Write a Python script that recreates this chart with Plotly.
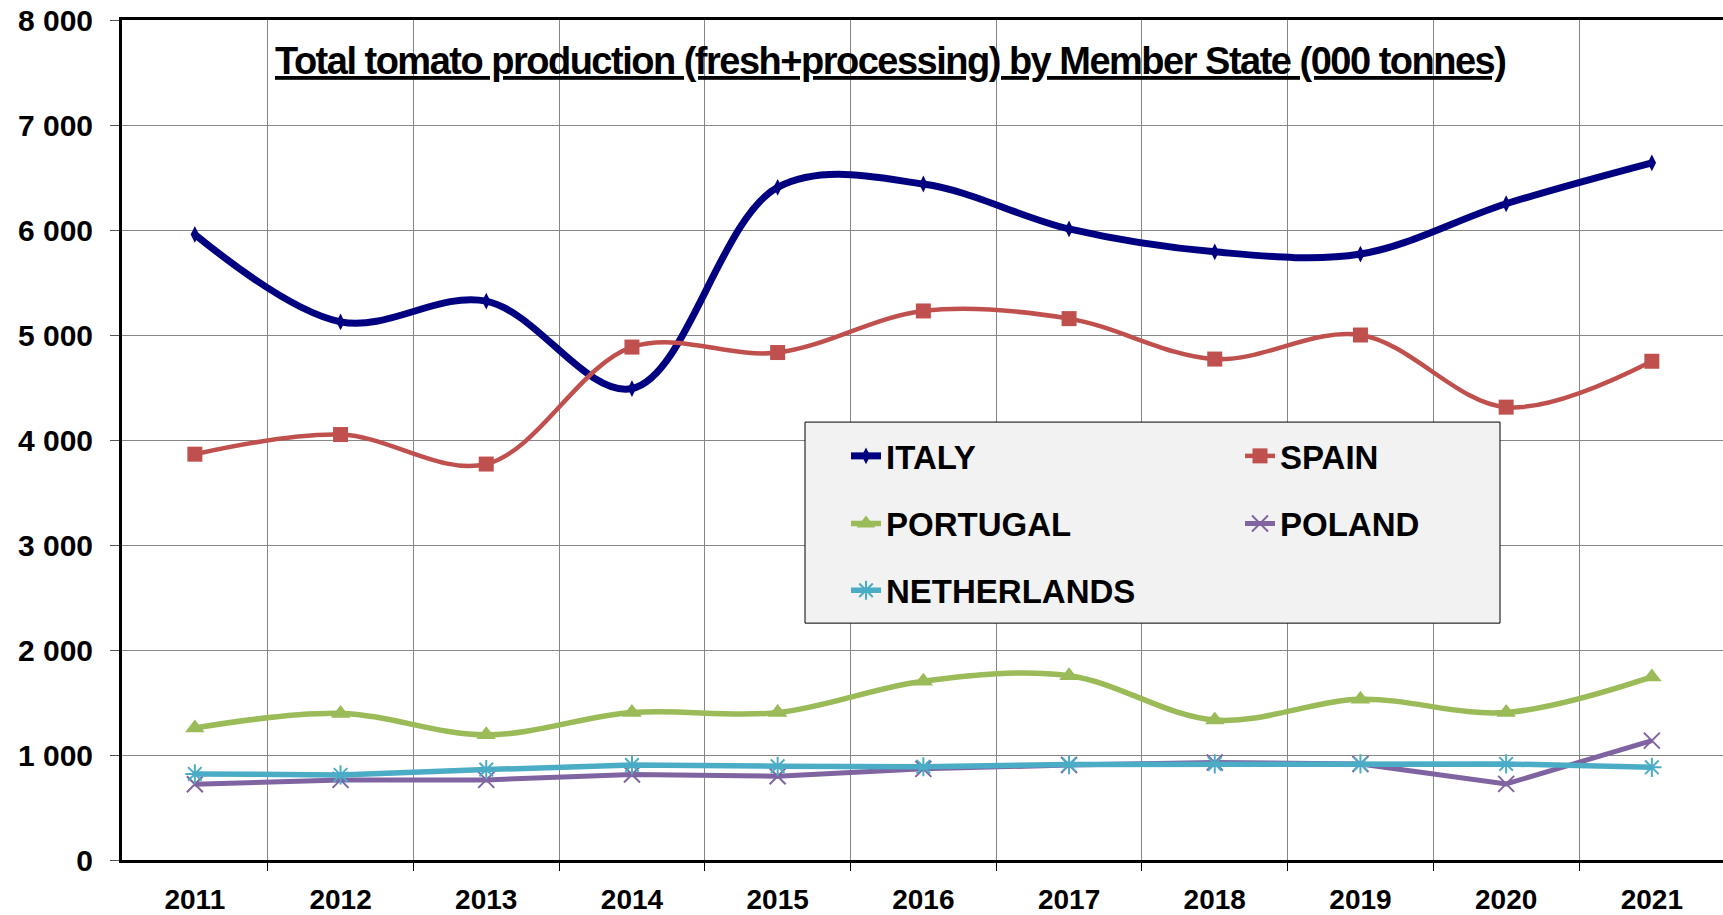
import plotly.graph_objects as go

years = ["2011", "2012", "2013", "2014", "2015", "2016", "2017", "2018", "2019", "2020", "2021"]
italy = [5958, 5125, 5323, 4490, 6406, 6438, 6010, 5792, 5771, 6250, 6640]
spain = [3865, 4052, 3771, 4885, 4833, 5229, 5156, 4771, 5000, 4313, 4750]
portugal = [1258, 1396, 1192, 1405, 1404, 1703, 1755, 1333, 1530, 1405, 1744]
poland = [722, 763, 763, 814, 798, 868, 905, 928, 915, 725, 1137]
netherlands = [820, 810, 861, 905, 893, 888, 909, 915, 915, 915, 883]
y_ticks = [0, 1000, 2000, 3000, 4000, 5000, 6000, 7000, 8000]
y_ticktext = [format(v, ",").replace(",", " ") for v in y_ticks]

title_text = "Total tomato production (fresh+processing) by Member State (000 tonnes)"

xi = list(range(len(years)))

FONT = "Liberation Sans, Arial, sans-serif"

fig = go.Figure()

series = [
    ("ITALY", italy, "#000080", 7, "spline", dict(symbol="diamond-tall", size=12, color="#000080"), "legend"),
    ("SPAIN", spain, "#C0504D", 4.5, "spline", dict(symbol="square", size=15, color="#C0504D"), "legend"),
    ("PORTUGAL", portugal, "#9BBB59", 5.5, "spline", dict(symbol="triangle-up", size=17, color="#9BBB59"), "legend2"),
    ("POLAND", poland, "#8064A2", 5, "linear", dict(symbol="x-thin", size=16, line=dict(color="#8064A2", width=2)), "legend2"),
    ("NETHERLANDS", netherlands, "#4BACC6", 5.5, "linear", dict(symbol="asterisk", size=16, line=dict(color="#4BACC6", width=2)), "legend3"),
]

for name, vals, color, w, shape, marker, leg in series:
    fig.add_trace(go.Scatter(
        x=xi, y=vals, name=name, mode="lines+markers",
        line=dict(color=color, width=w, shape=shape, smoothing=1.0),
        marker=marker, legend=leg,
    ))

# plot area geometry
L, R, T, B = 122, 0, 20, 51
W, H = 1723, 915
pw = W - L - R
ph = H - T - B

def px_x(px):
    return (px - L) / pw

def px_y(py):
    return (H - B - py) / ph

legend_common = dict(
    orientation="h", entrywidth=349, entrywidthmode="pixels",
    bgcolor="rgba(0,0,0,0)", borderwidth=0,
    font=dict(family=FONT, size=33, color="black", weight="bold"),
    xanchor="left", yanchor="middle", itemclick=False, itemdoubleclick=False,
)

fig.update_layout(
    width=W, height=H,
    margin=dict(l=L, r=R, t=T, b=B),
    paper_bgcolor="white", plot_bgcolor="white",
    showlegend=True,
    legend=dict(**legend_common, x=px_x(846), y=px_y(458)),
    legend2=dict(**legend_common, x=px_x(846), y=px_y(526)),
    legend3=dict(**legend_common, x=px_x(846), y=px_y(593)),
    font=dict(family=FONT, color="black"),
)

fig.update_xaxes(
    range=[-0.5, -0.5 + pw / 145.7],
    tickmode="array", tickvals=xi, ticktext=years,
    ticks="", showgrid=False, zeroline=False,
    showline=True, linecolor="black", linewidth=3, mirror=True,
    tickfont=dict(family=FONT, size=28, color="black", weight="bold"),
    ticklabelstandoff=12,
    minor=dict(tickvals=[i + 0.5 for i in xi], showgrid=True, gridcolor="#868686", gridwidth=1,
               ticks="outside", ticklen=8, tickcolor="black", tickwidth=1),
)

fig.update_yaxes(
    range=[0, 8000],
    tickmode="array", tickvals=y_ticks, ticktext=y_ticktext,
    ticks="outside", ticklen=9, tickcolor="#555555", tickwidth=1,
    showgrid=True, gridcolor="#868686", gridwidth=1,
    zeroline=False,
    showline=True, linecolor="black", linewidth=3,
    tickfont=dict(family=FONT, size=30, color="black", weight="bold"),
    ticklabelstandoff=11,
)

# title white box (covers gridlines)
fig.add_shape(type="rect", xref="paper", yref="paper",
              x0=px_x(240), x1=px_x(1530), y0=px_y(87), y1=px_y(31),
              fillcolor="white", line=dict(width=0), layer="between")

fig.add_annotation(
    xref="paper", yref="paper", x=px_x(890), y=px_y(61),
    xanchor="center", yanchor="middle", showarrow=False,
    text='<span style="letter-spacing:-1.5px"><u>' + title_text + "</u></span>",
    font=dict(family=FONT, size=38, color="black", weight="bold"),
)

# legend box
fig.add_shape(type="rect", xref="paper", yref="paper",
              x0=px_x(805), x1=px_x(1500), y0=px_y(626), y1=px_y(424),
              fillcolor="#F2F2F2", line=dict(color="black", width=1), layer="above")

fig.write_html("out.html", config={"displayModeBar": False},
               post_script="document.body.style.margin='0';document.body.style.overflow='hidden';")
